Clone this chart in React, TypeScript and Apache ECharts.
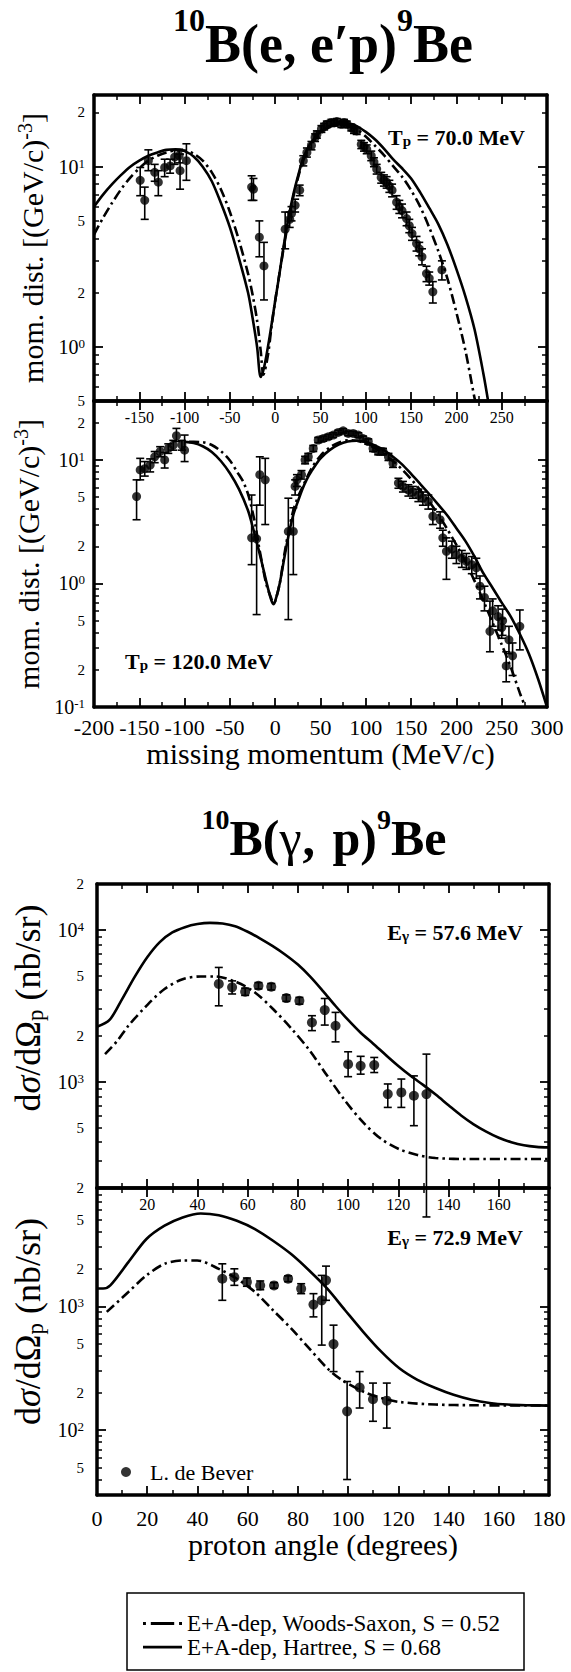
import React, { useEffect, useRef } from "react";
import * as echarts from "echarts";

const FONT = '"Liberation Serif", "Times New Roman", Times, serif';

const WS_NAME = "E+A-dep, Woods-Saxon, S = 0.52";
const HARTREE_NAME = "E+A-dep, Hartree, S = 0.68";
const DATA_NAME = "L. de Bever";

// ---------- 10B(e,e'p)9Be, Tp = 70.0 MeV  ([p_miss, mom. dist.]) ----------
const tp70Hartree = [
  [-200, 6.0], [-190, 7.0], [-180, 8.0], [-170, 9.0], [-160, 10.0], [-150, 10.8], [-140, 11.5],
  [-130, 12.0], [-120, 12.4], [-110, 12.5], [-100, 12.2], [-90, 11.4], [-80, 10.0], [-70, 8.3],
  [-60, 6.3], [-50, 4.6], [-40, 3.1], [-30, 2.0], [-25, 1.45], [-20, 1.0], [-16, 0.68], [-12, 0.78],
  [-6, 1.15], [0, 1.8], [5, 2.6], [10, 3.8], [15, 5.3], [20, 7.0], [25, 8.8], [30, 10.8], [35, 12.4],
  [40, 13.7], [50, 15.6], [60, 16.8], [70, 17.4], [80, 17.4], [90, 16.8], [100, 15.6], [110, 14.2],
  [120, 12.6], [130, 11.0], [140, 9.8], [150, 8.6], [160, 7.2], [170, 5.9], [180, 4.8], [190, 3.7],
  [200, 2.7], [210, 1.9], [220, 1.25], [230, 0.7], [235, 0.5],
];
const tp70WoodsSaxon = [
  [-200, 4.2], [-190, 5.2], [-180, 6.3], [-170, 7.5], [-160, 8.7], [-150, 9.8], [-140, 10.8],
  [-130, 11.5], [-120, 12.0], [-110, 12.3], [-100, 12.3], [-90, 11.8], [-80, 10.8], [-70, 9.3],
  [-60, 7.5], [-50, 5.6], [-40, 3.9], [-30, 2.55], [-25, 1.95], [-20, 1.4], [-16, 0.95], [-13, 0.7],
  [-8, 0.9], [-4, 1.3], [0, 1.8], [5, 2.6], [10, 3.7], [15, 5.1], [20, 6.8], [25, 8.6], [30, 10.5],
  [35, 12.1], [40, 13.4], [50, 15.3], [60, 16.6], [70, 17.1], [80, 16.9], [90, 16.1], [100, 14.7],
  [110, 13.1], [120, 11.6], [130, 10.1], [140, 8.8], [150, 7.4], [160, 6.0], [170, 4.6], [180, 3.4],
  [190, 2.4], [200, 1.55], [210, 0.95], [220, 0.52], [221, 0.5],
];
// [p_miss, value, error low, error high]
const tp70Data = [
  [-149, 8.4, 6.9, 9.9], [-144, 6.5, 5.1, 7.7], [-140, 10.8, 9.5, 12.4], [-133, 9.3, 8.3, 10.3],
  [-129, 8.2, 6.9, 9.5], [-122, 9.9, 8.8, 11.0], [-116, 10.1, 9.2, 11.0], [-111, 11.3, 10.3, 12.3],
  [-106, 11.5, 10.5, 12.5], [-105, 9.5, 7.5, 11.75], [-98, 10.8, 8.4, 13.4],
  [-26, 7.7, 6.5, 8.9], [-24, 7.5, 6.5, 8.6], [-17.5, 4.06, 3.16, 5.0], [-12.4, 2.81, 1.82, 3.8],
  [11, 4.5, 3.5, 5.6], [16, 5.1, 4.6, 5.6], [18, 5.5, 5.0, 6.0], [22, 6.1, 5.6, 6.6], [27, 7.4, 6.9, 7.9],
  [31, 10.8, 10.1, 11.5], [35, 12.0, 11.3, 12.7], [40, 13.1, 12.4, 13.8], [44, 14.5, 13.8, 15.2],
  [46, 15.1, 14.4, 15.8], [51, 16.2, 15.5, 16.9], [54, 16.7, 16.0, 17.4], [57, 17.2, 16.5, 17.9],
  [62, 17.6, 16.9, 18.3], [65, 17.5, 16.8, 18.2], [68, 17.8, 17.1, 18.5], [73, 17.2, 16.5, 17.9],
  [76, 17.6, 16.9, 18.3], [79, 17.2, 16.5, 17.9], [84, 16.5, 15.8, 17.2], [87, 16.0, 15.3, 16.7],
  [90, 15.8, 15.1, 16.5], [95, 13.3, 12.6, 14.0], [98, 12.9, 12.2, 13.6], [101, 12.5, 11.8, 13.2],
  [106, 11.5, 10.8, 12.2], [109, 10.6, 10.0, 11.2], [112, 9.7, 9.1, 10.3], [117, 8.7, 8.1, 9.3],
  [120, 8.4, 7.8, 9.0], [123, 8.2, 7.6, 8.8], [126, 7.8, 7.2, 8.4], [129, 7.4, 6.8, 8.0],
  [134, 6.35, 5.8, 6.9], [137, 6.0, 5.5, 6.5], [140, 5.7, 5.2, 6.2], [145, 5.15, 4.7, 5.6],
  [148, 4.7, 4.3, 5.1], [151, 4.25, 3.9, 4.6], [156, 3.74, 3.4, 4.1], [159, 3.5, 3.2, 3.8],
  [162, 3.16, 2.85, 3.5], [167, 2.55, 2.3, 2.8], [170, 2.4, 2.2, 2.6], [174, 2.02, 1.75, 2.3],
  [184, 2.67, 2.35, 3.0],
];

// ---------- 10B(e,e'p)9Be, Tp = 120.0 MeV ----------
const tp120Hartree = [
  [-100, 14.0], [-90, 13.7], [-80, 12.9], [-70, 11.6], [-60, 9.8], [-50, 7.8], [-40, 5.8], [-30, 3.9],
  [-25, 2.9], [-20, 2.1], [-15, 1.5], [-10, 1.05], [-5, 0.76], [-2, 0.68], [0, 0.72], [5, 1.0],
  [10, 1.6], [15, 2.5], [20, 3.6], [25, 4.6], [30, 5.8], [35, 7.0], [40, 8.1], [50, 10.3], [60, 12.0],
  [70, 13.3], [80, 14.1], [90, 14.3], [100, 14.0], [110, 13.1], [120, 12.0], [130, 10.6], [140, 9.2],
  [150, 7.7], [160, 6.4], [170, 5.3], [180, 4.35], [190, 3.55], [200, 2.8], [210, 2.2], [220, 1.65],
  [230, 1.2], [240, 0.92], [250, 0.7], [260, 0.54], [270, 0.39], [280, 0.27], [290, 0.17], [300, 0.1],
];
const tp120WoodsSaxon = [
  [-95, 14.0], [-90, 14.0], [-80, 13.9], [-70, 13.2], [-60, 11.8], [-50, 9.9], [-42, 8.0], [-35, 6.6],
  [-30, 5.3], [-27, 4.4], [-22, 3.0], [-18, 2.0], [-14, 1.4], [-10, 1.0], [-5, 0.78], [-2, 0.7],
  [0, 0.72], [5, 1.0], [10, 1.7], [15, 2.7], [20, 3.9], [25, 5.0], [30, 6.0], [40, 8.5], [50, 10.8],
  [60, 12.6], [70, 13.8], [80, 14.4], [90, 14.3], [100, 13.6], [110, 12.5], [120, 11.2], [130, 9.8],
  [140, 8.4], [150, 7.0], [160, 5.7], [170, 4.6], [180, 3.6], [190, 2.75], [200, 2.05], [210, 1.5],
  [220, 1.05], [230, 0.72], [240, 0.48], [250, 0.32], [260, 0.21], [270, 0.13], [276, 0.1],
];
const tp120Data = [
  [-153, 5.06, 3.28, 6.9], [-149, 8.3, 6.9, 10.3], [-144, 8.5, 7.4, 9.7], [-138, 9.1, 8.0, 10.2],
  [-133, 10.6, 9.5, 11.7], [-127, 11.7, 10.6, 12.8], [-122, 10.0, 8.6, 11.5], [-118, 12.4, 11.3, 13.5],
  [-112.5, 13.2, 12.0, 14.4], [-109, 15.7, 14.1, 18.0], [-103, 13.2, 12.0, 14.4], [-100, 12.0, 9.7, 15.9],
  [-26, 2.34, 1.42, 5.2], [-20.5, 2.3, 0.56, 4.3], [-17, 7.6, 4.3, 10.6], [-11, 6.9, 3.0, 10.3],
  [14.5, 2.64, 0.51, 4.9], [20, 2.64, 1.18, 4.1], [22, 6.1, 5.2, 6.9], [24, 6.9, 6.1, 7.6],
  [29, 7.6, 7.0, 8.2], [33, 10.0, 9.3, 10.7], [36.5, 10.6, 9.9, 11.3], [42, 12.4, 11.7, 13.1],
  [47.5, 14.5, 13.8, 15.2], [53, 14.9, 14.2, 15.6], [58.6, 15.4, 14.7, 16.1], [64, 15.9, 15.2, 16.6],
  [69.6, 16.7, 16.0, 17.4], [75, 17.2, 16.5, 17.9], [80.6, 16.4, 15.7, 17.1], [86, 16.4, 15.7, 17.1],
  [91.7, 15.9, 15.2, 16.6], [97, 14.9, 14.2, 15.6], [102.7, 14.1, 13.4, 14.8], [108, 12.4, 11.7, 13.1],
  [113.7, 11.7, 11.0, 12.4], [119, 11.7, 11.0, 12.4], [125, 10.6, 9.9, 11.3], [130, 9.4, 8.7, 10.1],
  [136, 6.5, 5.9, 7.1], [141, 6.1, 5.5, 6.7], [147, 5.7, 5.1, 6.3], [152, 5.5, 4.9, 6.1],
  [158, 5.2, 4.6, 5.8], [163, 4.9, 4.3, 5.5], [169, 4.6, 4.0, 5.2], [174, 3.5, 3.0, 4.0],
  [182, 3.28, 2.8, 3.8], [185, 2.34, 2.0, 2.7], [189, 1.82, 1.08, 2.34], [195, 1.9, 1.6, 2.2],
  [200, 1.71, 1.45, 2.0], [206, 1.6, 1.35, 1.85], [211, 1.51, 1.3, 1.75], [217, 1.42, 1.2, 1.65],
  [222, 1.34, 1.1, 1.6], [226, 0.95, 0.75, 1.15], [231, 0.77, 0.6, 0.95], [237, 0.41, 0.28, 0.72],
  [240, 0.6, 0.45, 0.75], [246, 0.54, 0.42, 0.66], [250, 0.44, 0.36, 0.52], [251, 0.5, 0.38, 0.62],
  [255, 0.215, 0.16, 0.28], [258, 0.35, 0.27, 0.45], [262, 0.26, 0.18, 0.33], [270, 0.45, 0.29, 0.61],
];

// ---------- 10B(γ,p)9Be, Eγ = 57.6 MeV  ([angle, dσ/dΩ]) ----------
const eg576Hartree = [
  [0, 2300], [5, 2550], [10, 3500], [15, 4900], [20, 6600], [25, 8300], [30, 9600], [35, 10400],
  [40, 10900], [45, 11100], [50, 11000], [55, 10550], [60, 9700], [65, 8750], [70, 7800], [75, 6850],
  [80, 5900], [85, 4900], [90, 3950], [95, 3150], [100, 2550], [105, 2100], [110, 1780], [115, 1500],
  [120, 1270], [125, 1090], [130, 950], [135, 820], [140, 700], [145, 600], [150, 525], [155, 470],
  [160, 428], [165, 400], [170, 382], [175, 373], [180, 370],
];
const eg576WoodsSaxon = [
  [3.2, 1520], [8, 1850], [12.5, 2335], [19.7, 3160], [26.9, 4080], [34.1, 4730], [41.3, 4930],
  [47, 4930], [55.7, 4510], [62.9, 3870], [70.1, 3010], [77.3, 2250], [84.5, 1620], [91.7, 1094],
  [98.8, 750], [106, 540], [113.2, 420], [120.4, 360], [127.6, 330], [134.8, 315], [149.2, 310],
  [180, 310],
];
const eg576Data = [
  [48.5, 4400, 3160, 5650], [53.8, 4180, 3780, 4610], [59, 3910, 3700, 4130], [64.3, 4280, 4080, 4490],
  [69.4, 4220, 4020, 4430], [75.4, 3550, 3380, 3730], [80.6, 3410, 3240, 3590], [85.6, 2455, 2170, 2720],
  [90.7, 2960, 2360, 3530], [95, 2335, 1830, 2860], [100, 1306, 1080, 1575], [105, 1273, 1122, 1470],
  [110.4, 1288, 1150, 1445], [115.8, 830, 678, 967], [121.2, 851, 678, 1042], [126.2, 809, 514, 1093],
  [131.2, 830, 129, 1520],
];

// ---------- 10B(γ,p)9Be, Eγ = 72.9 MeV ----------
const eg729Hartree = [
  [0, 1390], [2.4, 1390], [5.3, 1474], [12.5, 2270], [19.7, 3490], [26.9, 4470], [34.1, 5210],
  [41.3, 5610], [48.5, 5430], [55.7, 4900], [62.9, 4200], [70.1, 3380], [77.3, 2640], [84.5, 1945],
  [91.7, 1387], [98.8, 929], [106, 622], [113.2, 430], [120.4, 316], [127.6, 255], [134.8, 219],
  [142, 193], [149.2, 176], [156.4, 166], [163.6, 161], [171, 159], [180, 158],
];
const eg729WoodsSaxon = [
  [3.9, 901], [12.5, 1303], [19.7, 1774], [26.9, 2200], [34.1, 2340], [39.9, 2340], [48.5, 2005],
  [55.7, 1667], [62.9, 1303], [70.1, 929], [77.3, 662], [84.5, 457], [91.7, 316], [97.4, 255],
  [106, 205], [113.2, 182], [120.4, 169], [134.8, 161], [150, 159], [180, 158],
];
const eg729Data = [
  [49.9, 1667, 1117, 2200], [54.7, 1718, 1475, 2005], [59.7, 1567, 1450, 1690], [65, 1474, 1360, 1600],
  [70.5, 1474, 1400, 1550], [76.1, 1667, 1580, 1760], [81.3, 1387, 1264, 1520], [86.2, 1031, 821, 1264],
  [89.5, 1117, 486, 1774], [91.2, 1618, 1117, 2108], [94.2, 495, 297, 704], [99.6, 142, 40, 247],
  [104.6, 221, 151, 297], [109.9, 178, 118, 240], [115.4, 173, 104, 240],
];

// labelled y ticks of each panel
const tp70YLabels = [0.5, 1, 2, 5, 10, 20];
const tp120YLabels = [0.1, 0.2, 0.5, 1, 2, 5, 10, 20];
const eg576YLabels = [200, 500, 1000, 2000, 5000, 10000, 20000];
const eg729YLabels = [50, 100, 200, 500, 1000, 2000, 5000];

const MOM_NAME = "{n|mom. dist. [(GeV/c)}{s|-3}{n|]}";
const XSEC_NAME = "{x|d}{i|σ}{x|/dΩ}{b|p}{x| (nb/sr)}";

const PANELS = [
  {
    left: 94, top: 95, width: 453, height: 306, xMin: -200, xMax: 300, xInterval: 50,
    yMin: 0.5, yMax: 25, labels: tp70YLabels, bottomLabels: false, topLabels: false,
    yName: MOM_NAME, yNameGap: 45, yNameShift: 0, yLabelMargin: 9, xName: "", xNameGap: 0, bottomMargin: 9,
    hartree: tp70Hartree, ws: tp70WoodsSaxon, data: tp70Data, dataName: "Tp = 70.0 MeV data", sym: 9,
  },
  {
    left: 94, top: 401, width: 453, height: 306, xMin: -200, xMax: 300, xInterval: 50,
    yMin: 0.1, yMax: 30, labels: tp120YLabels, bottomLabels: true, topLabels: true,
    yName: MOM_NAME, yNameGap: 45, yNameShift: 0, yLabelMargin: 9, xName: "missing momentum (MeV/c)", xNameGap: 22, bottomMargin: 9,
    hartree: tp120Hartree, ws: tp120WoodsSaxon, data: tp120Data, dataName: "Tp = 120.0 MeV data", sym: 9,
  },
  {
    left: 97, top: 884, width: 452, height: 304, xMin: 0, xMax: 180, xInterval: 20,
    yMin: 200, yMax: 20000, labels: eg576YLabels, bottomLabels: false, topLabels: false,
    yName: XSEC_NAME, yNameGap: 46, yNameShift: 28, yLabelMargin: 13, xName: "", xNameGap: 0, bottomMargin: 12,
    hartree: eg576Hartree, ws: eg576WoodsSaxon, data: eg576Data, dataName: DATA_NAME, sym: 10,
  },
  {
    left: 97, top: 1188, width: 452, height: 307, xMin: 0, xMax: 180, xInterval: 20,
    yMin: 30, yMax: 9000, labels: eg729YLabels, bottomLabels: true, topLabels: true,
    yName: XSEC_NAME, yNameGap: 46, yNameShift: 20, yLabelMargin: 13, xName: "proton angle (degrees)", xNameGap: 28, bottomMargin: 12,
    hartree: eg729Hartree, ws: eg729WoodsSaxon, data: eg729Data, dataName: DATA_NAME, sym: 10,
  },
];

function minorTickValues(min: number, max: number) {
  const minors: number[] = [];
  const majors: number[] = [];
  for (let e = Math.floor(Math.log10(min)); e <= Math.ceil(Math.log10(max)); e++) {
    for (let m = 1; m <= 9; m++) {
      const v = m * Math.pow(10, e);
      if (v < min * 0.9999 || v > max * 1.0001) continue;
      (m === 1 ? majors : minors).push(Math.log10(v));
    }
  }
  return { minors, majors };
}

function yLabelFormatter(v: number) {
  const e = Math.round(v);
  if (Math.abs(v - e) < 1e-6) return `{b|10}{s|${e}}`;
  const m = Math.round(Math.pow(10, v - Math.floor(v + 1e-9)));
  return `{m|${m}}`;
}

const BLACK = "#000";

function buildOption() {
  const grid: any[] = [];
  const xAxis: any[] = [];
  const yAxis: any[] = [];
  const series: any[] = [];

  PANELS.forEach((p, i) => {
    grid.push({ left: p.left, top: p.top, width: p.width, height: p.height, show: false });

    const xCommon = {
      type: "value", gridIndex: i, min: p.xMin, max: p.xMax, interval: p.xInterval,
      splitLine: { show: false }, minorSplitLine: { show: false },
      axisLine: { show: true, onZero: false, lineStyle: { color: BLACK, width: 3.5 } },
      axisTick: { show: true, inside: true, length: 9, lineStyle: { color: BLACK, width: 1.8 } },
      minorTick: { show: true, splitNumber: 2, length: 5, lineStyle: { color: BLACK, width: 1.5 } },
    };
    xAxis.push({
      ...xCommon, position: "bottom",
      axisLabel: p.bottomLabels
        ? { show: true, fontFamily: FONT, fontSize: 22, color: BLACK, margin: p.bottomMargin }
        : { show: false },
      name: p.xName, nameLocation: "middle", nameGap: p.xNameGap,
      nameTextStyle: { fontFamily: FONT, fontSize: 30, color: BLACK, lineHeight: 30 },
    });
    xAxis.push({
      ...xCommon, position: "top",
      axisLabel: p.topLabels
        ? { show: true, inside: true, margin: 8, fontFamily: FONT, fontSize: 16, color: BLACK, showMinLabel: false, showMaxLabel: false }
        : { show: false },
    });

    const lmin = Math.log10(p.yMin);
    const lmax = Math.log10(p.yMax);
    const { minors, majors } = minorTickValues(p.yMin, p.yMax);
    const labelVals = p.labels.map((v) => Math.log10(v));

    const decoBase = {
      type: "value", gridIndex: i, min: lmin, max: lmax,
      splitLine: { show: false }, minorSplitLine: { show: false },
    };
    // data axis (log scale)
    yAxis.push({ type: "log", logBase: 10, gridIndex: i, min: p.yMin, max: p.yMax, show: false });
    // left minor ticks + frame line
    yAxis.push({
      ...decoBase, position: "left",
      axisLine: { show: true, onZero: false, lineStyle: { color: BLACK, width: 3.5 } },
      axisTick: { show: true, inside: true, length: 5, customValues: minors, lineStyle: { color: BLACK, width: 1.5 } },
      axisLabel: { show: false },
    });
    // left decade ticks + labels + name
    yAxis.push({
      ...decoBase, position: "left",
      axisLine: { show: false, onZero: false },
      axisTick: { show: true, inside: true, length: 9, customValues: majors, lineStyle: { color: BLACK, width: 1.8 } },
      axisLabel: {
        show: true, customValues: labelVals, margin: p.yLabelMargin, formatter: yLabelFormatter,
        fontFamily: FONT, color: BLACK,
        rich: {
          b: { fontFamily: FONT, fontSize: 20, lineHeight: 20, color: BLACK },
          s: { fontFamily: FONT, fontSize: 13, lineHeight: 13, verticalAlign: "top", color: BLACK },
          m: { fontFamily: FONT, fontSize: 15, lineHeight: 15, color: BLACK },
        },
      },
      name: p.yName, nameLocation: "middle", nameGap: p.yNameGap, nameRotate: 90,
      nameTextStyle: {
        fontFamily: FONT, fontSize: 30, color: BLACK,
        padding: [0, 0, 0, 2 * p.yNameShift],
        rich: {
          n: { fontFamily: FONT, fontSize: 30, lineHeight: 34, color: BLACK },
          x: { fontFamily: FONT, fontSize: 36, lineHeight: 38, color: BLACK },
          i: { fontFamily: FONT, fontSize: 36, lineHeight: 38, fontStyle: "italic", color: BLACK },
          s: { fontFamily: FONT, fontSize: 20, lineHeight: 20, verticalAlign: "top", color: BLACK },
          b: { fontFamily: FONT, fontSize: 23, lineHeight: 12, verticalAlign: "bottom", color: BLACK },
        },
      },
    });
    // right minor ticks + frame
    yAxis.push({
      ...decoBase, position: "right",
      axisLine: { show: true, onZero: false, lineStyle: { color: BLACK, width: 3.5 } },
      axisTick: { show: true, inside: true, length: 5, customValues: minors, lineStyle: { color: BLACK, width: 1.5 } },
      axisLabel: { show: false },
    });
    // right decade ticks
    yAxis.push({
      ...decoBase, position: "right",
      axisLine: { show: false, onZero: false },
      axisTick: { show: true, inside: true, length: 9, customValues: majors, lineStyle: { color: BLACK, width: 1.8 } },
      axisLabel: { show: false },
    });

    const xi = 2 * i;
    const yi = 5 * i;
    series.push({
      type: "line", name: HARTREE_NAME, xAxisIndex: xi, yAxisIndex: yi, data: p.hartree,
      symbol: "none", showSymbol: false, smooth: 0.3, z: 3,
      lineStyle: { color: BLACK, width: 2.6 }, itemStyle: { color: BLACK },
    });
    series.push({
      type: "line", name: WS_NAME, xAxisIndex: xi, yAxisIndex: yi, data: p.ws,
      symbol: "none", showSymbol: false, smooth: 0.3, z: 3,
      lineStyle: { color: BLACK, width: 2.6, type: [10, 4, 2.5, 4] }, itemStyle: { color: BLACK },
    });
    series.push({
      type: "custom", name: p.dataName + " errors", xAxisIndex: xi, yAxisIndex: yi, data: p.data,
      clip: false, z: 4, encode: { x: 0, y: 1 },
      renderItem: (params: any, api: any) => {
        const x = api.value(0);
        const lo = api.value(2);
        const hi = api.value(3);
        if (!(hi > lo)) return { type: "group", children: [] };
        const a = api.coord([x, hi]);
        const b = api.coord([x, lo]);
        const w = 4;
        const st = { stroke: BLACK, lineWidth: 1.6 };
        return {
          type: "group",
          children: [
            { type: "line", shape: { x1: a[0], y1: a[1], x2: b[0], y2: b[1] }, style: st },
            { type: "line", shape: { x1: a[0] - w, y1: a[1], x2: a[0] + w, y2: a[1] }, style: st },
            { type: "line", shape: { x1: b[0] - w, y1: b[1], x2: b[0] + w, y2: b[1] }, style: st },
          ],
        };
      },
    });
    series.push({
      type: "scatter", name: p.dataName, xAxisIndex: xi, yAxisIndex: yi,
      data: p.data.map((d) => [d[0], d[1]]), symbol: "circle", symbolSize: p.sym, z: 5,
      itemStyle: { color: BLACK },
    });
  });

  const annStyle = (text: string) => ({
    text,
    fill: BLACK,
    rich: {
      t: { fontFamily: FONT, fontSize: 22, fontWeight: "bold", lineHeight: 22, fill: BLACK },
      u: { fontFamily: FONT, fontSize: 15, fontWeight: "bold", lineHeight: 8, verticalAlign: "bottom", fill: BLACK },
    },
  });

  const graphic = [
    {
      type: "text", x: 323, y: 4,
      style: {
        text: "{s|10}{b|B(e, e′p)}{s|9}{b|Be}",
        align: "center", verticalAlign: "top", fill: BLACK,
        rich: {
          b: { fontFamily: FONT, fontSize: 54, fontWeight: "bold", lineHeight: 80, fill: BLACK },
          s: { fontFamily: FONT, fontSize: 32, fontWeight: "bold", lineHeight: 32, verticalAlign: "top", fill: BLACK },
        },
      },
    },
    {
      type: "text", x: 324, y: 805,
      style: {
        text: "{s|10}{b|B(}{g|γ}{c|,}{b| p)}{s|9}{b|Be}",
        align: "center", verticalAlign: "top", fill: BLACK,
        rich: {
          b: { fontFamily: FONT, fontSize: 50, fontWeight: "bold", lineHeight: 66, fill: BLACK },
          c: { fontFamily: FONT, fontSize: 50, fontWeight: "bold", lineHeight: 66, padding: [0, 5, 0, 1], fill: BLACK },
          g: { fontFamily: FONT, fontSize: 50, fontWeight: "normal", lineHeight: 66, fill: BLACK },
          s: { fontFamily: FONT, fontSize: 28, fontWeight: "bold", lineHeight: 28, verticalAlign: "top", fill: BLACK },
        },
      },
    },
    { type: "text", x: 525, y: 126, style: { ...annStyle("{t|T}{u|p}{t| = 70.0 MeV}"), align: "right", verticalAlign: "top" } },
    { type: "text", x: 125, y: 650, style: { ...annStyle("{t|T}{u|p}{t| = 120.0 MeV}"), align: "left", verticalAlign: "top" } },
    { type: "text", x: 523, y: 921, style: { ...annStyle("{t|E}{u|γ}{t| = 57.6 MeV}"), align: "right", verticalAlign: "top" } },
    { type: "text", x: 523, y: 1226, style: { ...annStyle("{t|E}{u|γ}{t| = 72.9 MeV}"), align: "right", verticalAlign: "top" } },
    {
      type: "rect", shape: { x: 127, y: 1593, width: 397, height: 77 },
      style: { fill: "none", stroke: BLACK, lineWidth: 1.5 },
    },
  ];

  return {
    animation: false,
    backgroundColor: "#fff",
    textStyle: { fontFamily: FONT },
    grid, xAxis, yAxis, series, graphic,
    legend: [
      {
        orient: "vertical", left: 143, top: 1612, padding: 0, itemGap: 0.6,
        itemWidth: 39, itemHeight: 3, selectedMode: false,
        textStyle: { fontFamily: FONT, fontSize: 23, color: BLACK, lineHeight: 21 },
        data: [
          { name: WS_NAME, icon: "path://M0,0h3v3h-3z M8,0h24v3h-24z M37,0h3v3h-3z" },
          { name: HARTREE_NAME, icon: "path://M0,0h40v3h-40z" },
        ],
      },
      {
        orient: "vertical", left: 121, top: 1461, padding: 0, itemWidth: 10, itemHeight: 10,
        selectedMode: false,
        textStyle: { fontFamily: FONT, fontSize: 22, color: BLACK, lineHeight: 22, padding: [0, 0, 0, 14] },
        data: [{ name: DATA_NAME, icon: "circle" }],
      },
    ],
  };
}

export default function App() {
  const ref = useRef<HTMLDivElement>(null);
  useEffect(() => {
    if (!ref.current) return;
    const chart = echarts.init(ref.current, null, { renderer: "svg" });
    chart.setOption(buildOption() as any);
    return () => chart.dispose();
  }, []);
  return (
    <div
      ref={ref}
      style={{ position: "absolute", left: 0, top: 0, width: 571, height: 1672, background: "#fff" }}
    />
  );
}
